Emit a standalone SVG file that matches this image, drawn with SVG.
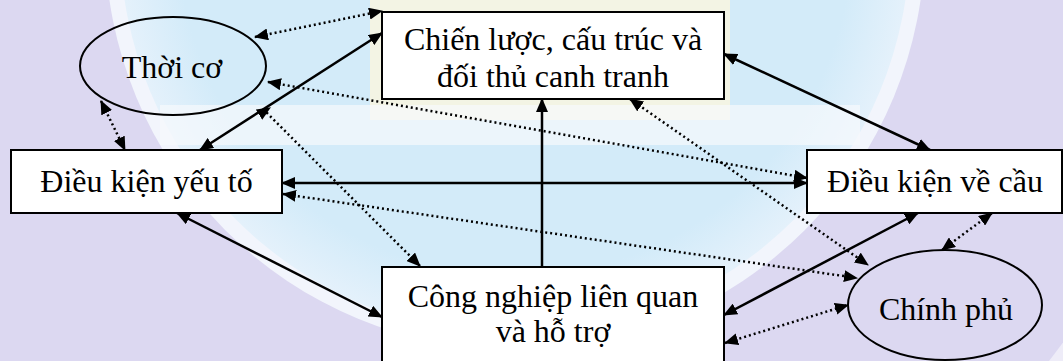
<svg xmlns="http://www.w3.org/2000/svg" width="1063" height="361" viewBox="0 0 1063 361">
  <defs>
    <marker id="ah" markerUnits="userSpaceOnUse" markerWidth="14" markerHeight="12" refX="13" refY="6" orient="auto-start-reverse" viewBox="0 0 14 12">
      <path d="M0,0 L14,6 L0,12 z" fill="#000"/>
    </marker>
    <marker id="ahFixed" markerUnits="userSpaceOnUse" markerWidth="14" markerHeight="12" refX="7" refY="6" orient="-32" viewBox="0 0 14 12">
      <path d="M0,0 L14,6 L0,12 z" fill="#000"/>
    </marker>
    <radialGradient id="inner" cx="0.5" cy="0.5" r="0.5">
      <stop offset="0.85" stop-color="#d3ebf9"/>
      <stop offset="1" stop-color="#e4f1fb"/>
    </radialGradient>
  </defs>
  <style>
    .node { fill: #fff; stroke: #000; stroke-width: 2; }
    .oval { fill: none; stroke: #000; stroke-width: 2; }
    text { font-family: 'Liberation Serif', 'Times New Roman', serif; font-size: 32px; fill: #000; text-anchor: middle; }
    .solid { fill: none; stroke: #000; stroke-width: 2.5; }
    .dot { fill: none; stroke: #000; stroke-width: 2.5; stroke-dasharray: 2 3; }
  </style>

  <g id="watermark">
    <rect x="0" y="0" width="1063" height="361" fill="#eeecf8"/>
    <circle cx="515" cy="-60" r="680" fill="#dcd8f1"/>
    <circle cx="515" cy="-60" r="410" fill="#f2f5fc"/>
    <circle cx="515" cy="-60" r="395" fill="url(#inner)"/>
    <rect x="370" y="0" width="360" height="120" fill="#fbf6de" opacity="0.8"/>
    <rect x="160" y="105" width="700" height="40" fill="#f7fafc" opacity="0.7"/>
  </g>

  <g id="connectors">
    <path class="solid" d="M200,150 L382,33" marker-start="url(#ah)" marker-end="url(#ah)"/>
    <path class="solid" d="M724,54 L930,150" marker-start="url(#ah)" marker-end="url(#ah)"/>
    <path class="solid" d="M282,183 L807,183" marker-start="url(#ah)" marker-end="url(#ah)"/>
    <path class="solid" d="M542,267 L542,99" marker-end="url(#ah)"/>
    <path class="solid" d="M177,213 L382,317" marker-start="url(#ah)" marker-end="url(#ah)"/>
    <path class="solid" d="M918,213 L724,315" marker-start="url(#ah)" marker-end="url(#ah)"/>

    <path class="dot" d="M255,37 L382,11" marker-start="url(#ah)" marker-end="url(#ah)"/>
    <path class="dot" d="M101,101 L125,150" marker-start="url(#ah)" marker-end="url(#ah)"/>
    <path class="dot" d="M268,82 L807,178" marker-start="url(#ah)" marker-end="url(#ah)"/>
    <path class="dot" d="M283,194 L857,278" marker-start="url(#ah)" marker-end="url(#ah)"/>
    <path class="dot" d="M630,99 L868,265" marker-start="url(#ah)" marker-end="url(#ah)"/>
    <path class="dot" d="M992,213 L942,250" marker-start="url(#ah)" marker-end="url(#ah)"/>
    <path class="dot" d="M725,343 L848,305" marker-start="url(#ah)" marker-end="url(#ah)"/>
    <path class="dot" d="M420,266 L265,111" marker-start="url(#ah)" marker-end="url(#ahFixed)"/>
  </g>

  <g id="thoi-co">
    <ellipse class="oval" cx="173" cy="66" rx="93" ry="49"/>
    <text x="172" y="78">Thời cơ</text>
  </g>
  <g id="chien-luoc">
    <rect class="node" x="382" y="12" width="342" height="87"/>
    <text x="553" y="50">Chiến lược, cấu trúc và</text>
    <text x="553" y="87">đối thủ canh tranh</text>
  </g>
  <g id="dieu-kien-yeu-to">
    <rect class="node" x="11" y="150" width="271" height="63"/>
    <text x="146.5" y="192">Điều kiện yếu tố</text>
  </g>
  <g id="dieu-kien-ve-cau">
    <rect class="node" x="807" y="150" width="255" height="63"/>
    <text x="935" y="192">Điều kiện về cầu</text>
  </g>
  <g id="cong-nghiep">
    <rect class="node" x="382" y="267" width="342" height="110"/>
    <text x="553" y="307">Công nghiệp liên quan</text>
    <text x="553" y="342">và hỗ trợ</text>
  </g>
  <g id="chinh-phu">
    <ellipse class="oval" cx="945" cy="305" rx="97" ry="55"/>
    <text x="946" y="320">Chính phủ</text>
  </g>
</svg>
